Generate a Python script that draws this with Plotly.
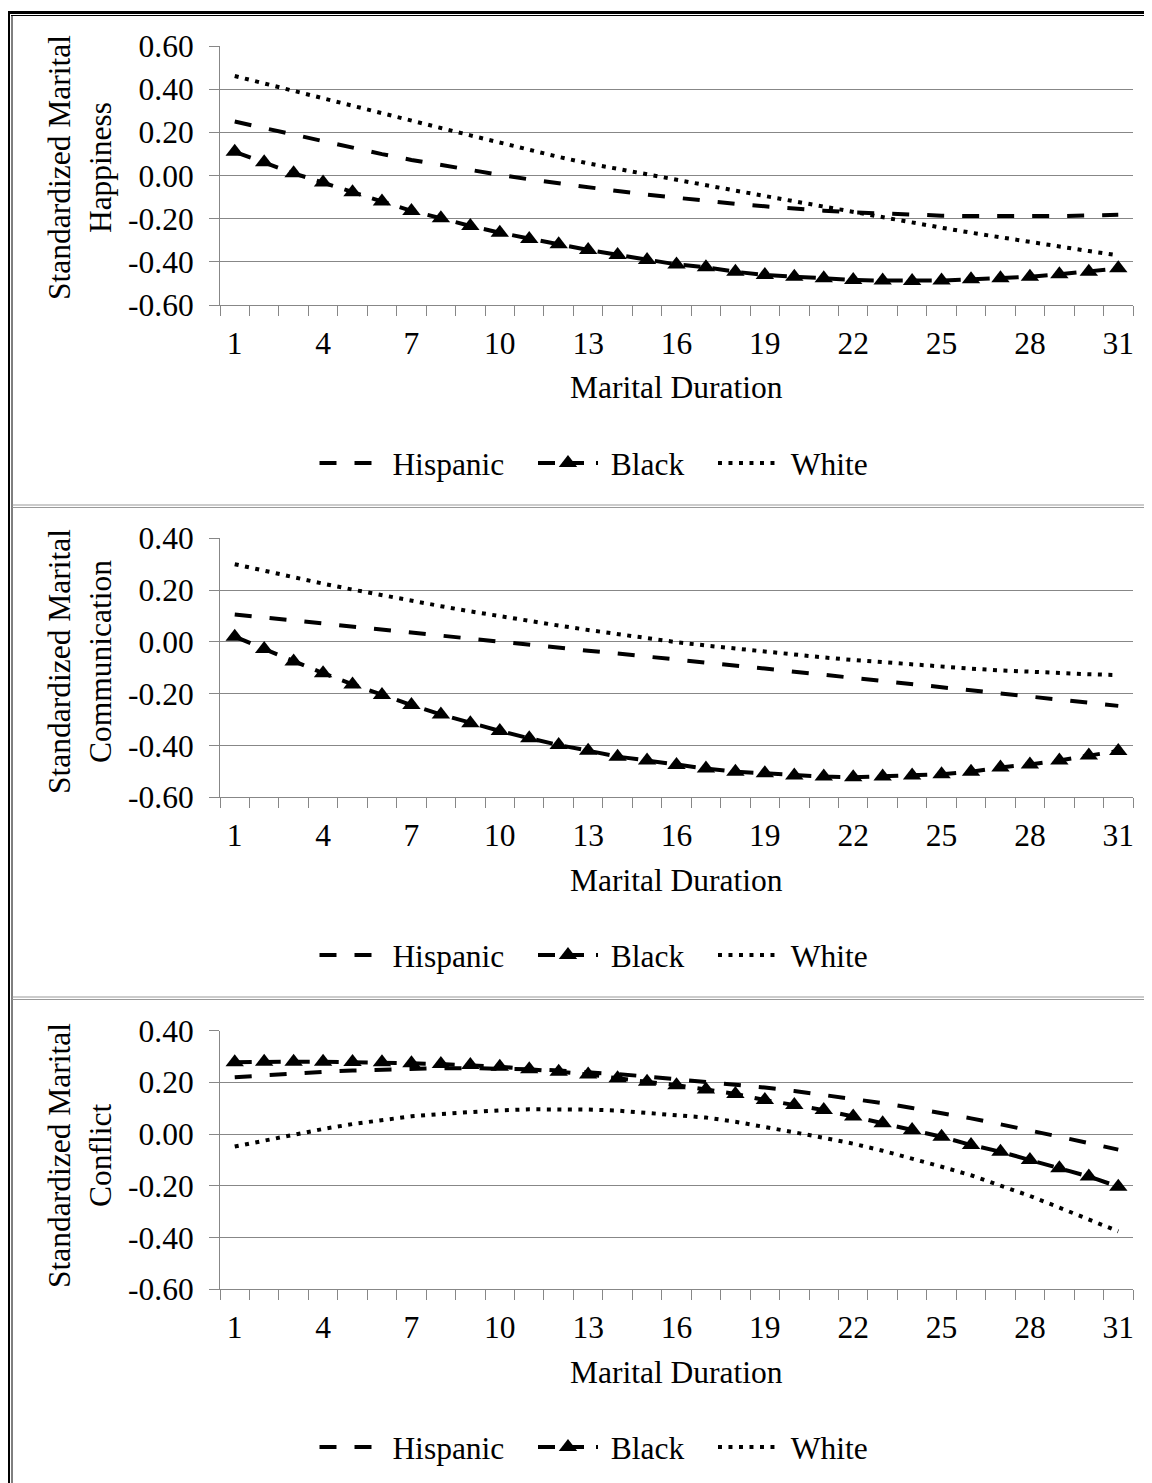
import plotly.graph_objects as go

# ---------------- data ----------------
duration = list(range(1, 32))
x_tickvals = [1, 4, 7, 10, 13, 16, 19, 22, 25, 28, 31]
x_ticktext = ["1", "4", "7", "10", "13", "16", "19", "22", "25", "28", "31"]

y1_tickvals = [-0.6, -0.4, -0.2, 0.0, 0.2, 0.4, 0.6]
y1_ticktext = ["-0.60", "-0.40", "-0.20", "0.00", "0.20", "0.40", "0.60"]
y23_tickvals = [-0.6, -0.4, -0.2, 0.0, 0.2, 0.4]
y23_ticktext = ["-0.60", "-0.40", "-0.20", "0.00", "0.20", "0.40"]

series_names = ["Hispanic", "Black", "White"]
y_titles = ["Standardized Marital<br>Happiness",
            "Standardized Marital<br>Communication",
            "Standardized Marital<br>Conflict"]
x_title = "Marital Duration"

happiness_hispanic = [0.250, 0.219, 0.188, 0.158, 0.128, 0.099, 0.072, 0.048, 0.025, 0.003,
                      -0.018, -0.037, -0.055, -0.072, -0.089, -0.104, -0.118, -0.131, -0.143, -0.154,
                      -0.163, -0.171, -0.177, -0.182, -0.186, -0.188, -0.189, -0.189, -0.188, -0.185, -0.182]
happiness_black = [0.110, 0.061, 0.010, -0.033, -0.078, -0.121, -0.164, -0.198, -0.234, -0.265,
                   -0.294, -0.319, -0.345, -0.368, -0.392, -0.412, -0.425, -0.446, -0.461, -0.469,
                   -0.476, -0.484, -0.487, -0.489, -0.487, -0.481, -0.476, -0.469, -0.458, -0.446, -0.430]
happiness_white = [0.461, 0.426, 0.391, 0.357, 0.322, 0.288, 0.254, 0.220, 0.186, 0.152,
                   0.119, 0.086, 0.056, 0.030, 0.005, -0.020, -0.045, -0.070, -0.095, -0.120,
                   -0.145, -0.170, -0.195, -0.219, -0.242, -0.265, -0.287, -0.309, -0.330, -0.350, -0.370]

communication_hispanic = [0.106, 0.094, 0.082, 0.070, 0.058, 0.046, 0.034, 0.022, 0.011, 0.000,
                          -0.011, -0.022, -0.034, -0.045, -0.056, -0.068, -0.079, -0.091, -0.103, -0.115,
                          -0.127, -0.139, -0.151, -0.163, -0.175, -0.187, -0.199, -0.211, -0.223, -0.235, -0.247]
communication_black = [0.020, -0.027, -0.076, -0.121, -0.164, -0.205, -0.244, -0.280, -0.314, -0.344,
                       -0.372, -0.398, -0.420, -0.443, -0.458, -0.475, -0.489, -0.501, -0.507, -0.516,
                       -0.520, -0.523, -0.520, -0.516, -0.511, -0.501, -0.485, -0.473, -0.458, -0.439, -0.421]
communication_white = [0.300, 0.274, 0.249, 0.225, 0.202, 0.180, 0.159, 0.138, 0.118, 0.099,
                       0.081, 0.063, 0.046, 0.030, 0.014, -0.001, -0.014, -0.026, -0.038, -0.050,
                       -0.060, -0.070, -0.079, -0.088, -0.096, -0.103, -0.110, -0.116, -0.121, -0.125, -0.128]

conflict_hispanic = [0.220, 0.228, 0.235, 0.241, 0.246, 0.250, 0.253, 0.255, 0.255, 0.254,
                     0.251, 0.246, 0.240, 0.232, 0.223, 0.213, 0.203, 0.192, 0.180, 0.167,
                     0.152, 0.137, 0.120, 0.101, 0.082, 0.061, 0.038, 0.015, -0.010, -0.035, -0.060]
conflict_black = [0.278, 0.280, 0.280, 0.280, 0.279, 0.278, 0.274, 0.271, 0.267, 0.261,
                  0.251, 0.241, 0.231, 0.216, 0.203, 0.189, 0.173, 0.155, 0.132, 0.113,
                  0.093, 0.068, 0.042, 0.016, -0.010, -0.042, -0.068, -0.100, -0.132, -0.164, -0.203]
conflict_white = [-0.048, -0.025, -0.002, 0.020, 0.039, 0.053, 0.069, 0.078, 0.086, 0.092,
                  0.096, 0.096, 0.095, 0.091, 0.083, 0.074, 0.064, 0.048, 0.029, 0.007,
                  -0.014, -0.037, -0.064, -0.094, -0.126, -0.159, -0.198, -0.239, -0.284, -0.329, -0.376]

panels_data = [
    (happiness_hispanic, happiness_black, happiness_white),
    (communication_hispanic, communication_black, communication_white),
    (conflict_hispanic, conflict_black, conflict_white),
]

# ---------------- layout geometry (pixels, in page coordinates) ----------------
W, H = 1152, 1483
OFF = 8  # page body margin offset of the figure
FONT = "Liberation Serif, Times New Roman, serif"
FS = 31.5
GRAY = "#878787"
NB = "\u00a0"
legend_labels = [NB + series_names[0] + NB * 3,
                 NB + series_names[1] + NB * 3,
                 NB + series_names[2]]

def px_x(p):
    return (p - OFF) / W

def px_y(p):
    return 1 - (p - OFF) / H

plot_left, plot_right = 220, 1133
panel_tops = [46, 538.3, 1030.7]
panel_bottoms = [305, 797.3, 1289.3]
y_ranges = [[-0.6, 0.6], [-0.6, 0.4], [-0.6, 0.4]]
y_ticks = [(y1_tickvals, y1_ticktext), (y23_tickvals, y23_ticktext), (y23_tickvals, y23_ticktext)]
ytitle_centers = [168, 662, 1156]
xtitle_centers = [388, 880, 1372]
legend_centers = [463, 955, 1447]

fig = go.Figure()

for i, (hisp, blk, wht) in enumerate(panels_data):
    sfx = "" if i == 0 else str(i + 1)
    xa, ya = "x" + sfx, "y" + sfx
    lg = "legend" + sfx
    fig.add_trace(go.Scatter(x=duration, y=hisp, mode="lines", name=legend_labels[0],
                             line=dict(color="black", width=4, dash="17px,18px"),
                             xaxis=xa, yaxis=ya, legend=lg))
    fig.add_trace(go.Scatter(x=duration, y=blk, mode="lines+markers", name=legend_labels[1],
                             line=dict(color="black", width=4, dash="17px,12px"),
                             marker=dict(symbol="triangle-up", size=16, color="black"),
                             xaxis=xa, yaxis=ya, legend=lg))
    fig.add_trace(go.Scatter(x=duration, y=wht, mode="lines", name=legend_labels[2],
                             line=dict(color="black", width=4, dash="4px,6.5px"),
                             xaxis=xa, yaxis=ya, legend=lg))

    fig.update_layout(**{
        "xaxis" + sfx: dict(
            domain=[px_x(plot_left), px_x(plot_right)], anchor=ya,
            range=[0.5, 31.5], tickmode="array", tickvals=x_tickvals, ticktext=x_ticktext,
            ticks="", showgrid=False, zeroline=False, automargin=False,
            showline=True, linecolor=GRAY, linewidth=1,
            tickfont=dict(family=FONT, size=FS, color="black"),
            ticklabelstandoff=10,
            minor=dict(tickmode="linear", tick0=0.5, dtick=1, ticks="outside", ticklen=10,
                       tickcolor=GRAY, tickwidth=1, showgrid=False),
            fixedrange=True,
        ),
        "yaxis" + sfx: dict(
            domain=[px_y(panel_bottoms[i]), px_y(panel_tops[i])], anchor=xa,
            range=y_ranges[i], tickmode="array", tickvals=y_ticks[i][0], ticktext=y_ticks[i][1],
            ticks="outside", ticklen=10, tickcolor=GRAY, tickwidth=1,
            showgrid=True, gridcolor=GRAY, gridwidth=1, zeroline=False, automargin=False,
            showline=True, linecolor=GRAY, linewidth=1,
            tickfont=dict(family=FONT, size=FS, color="black"),
            ticklabelstandoff=9,
            fixedrange=True,
        ),
        lg: dict(
            orientation="h", x=px_x(594), xanchor="center",
            y=px_y(legend_centers[i]), yanchor="middle",
            font=dict(family=FONT, size=FS, color="black"),
            itemwidth=60, bgcolor="rgba(0,0,0,0)", traceorder="normal",
        ),
    })

annotations = []
for i in range(3):
    annotations.append(dict(
        text=y_titles[i], x=px_x(80), y=px_y(ytitle_centers[i]), xref="paper", yref="paper",
        textangle=-90, showarrow=False, xanchor="center", yanchor="middle",
        font=dict(family=FONT, size=FS, color="black"),
    ))
    annotations.append(dict(
        text=x_title, x=px_x((plot_left + plot_right) / 2), y=px_y(xtitle_centers[i]),
        xref="paper", yref="paper", showarrow=False, xanchor="center", yanchor="middle",
        font=dict(family=FONT, size=FS, color="black"),
    ))

shapes = [
    # outer frame (thick + thin)
    dict(type="line", xref="paper", yref="paper", x0=px_x(7), x1=1, y0=px_y(12.5), y1=px_y(12.5),
         line=dict(color="black", width=3)),
    dict(type="line", xref="paper", yref="paper", x0=px_x(11), x1=1, y0=px_y(15.5), y1=px_y(15.5),
         line=dict(color="black", width=1)),
    dict(type="line", xref="paper", yref="paper", x0=px_x(8.5), x1=px_x(8.5), y0=px_y(11), y1=0,
         line=dict(color="black", width=3)),
    dict(type="line", xref="paper", yref="paper", x0=px_x(12), x1=px_x(12), y0=px_y(15), y1=0,
         line=dict(color="black", width=1)),
]
for sep in (505, 997):
    for off in (0, 2.5):
        shapes.append(dict(type="line", xref="paper", yref="paper",
                           x0=px_x(12.5), x1=1, y0=px_y(sep + off), y1=px_y(sep + off),
                           line=dict(color="#9a9a9a", width=1.2)))

fig.update_layout(
    width=W, height=H, margin=dict(l=0, r=0, t=0, b=0, pad=0, autoexpand=False),
    paper_bgcolor="white", plot_bgcolor="white",
    annotations=annotations, shapes=shapes,
    font=dict(family=FONT, size=FS, color="black"),
)

fig.write_html("out.html")
